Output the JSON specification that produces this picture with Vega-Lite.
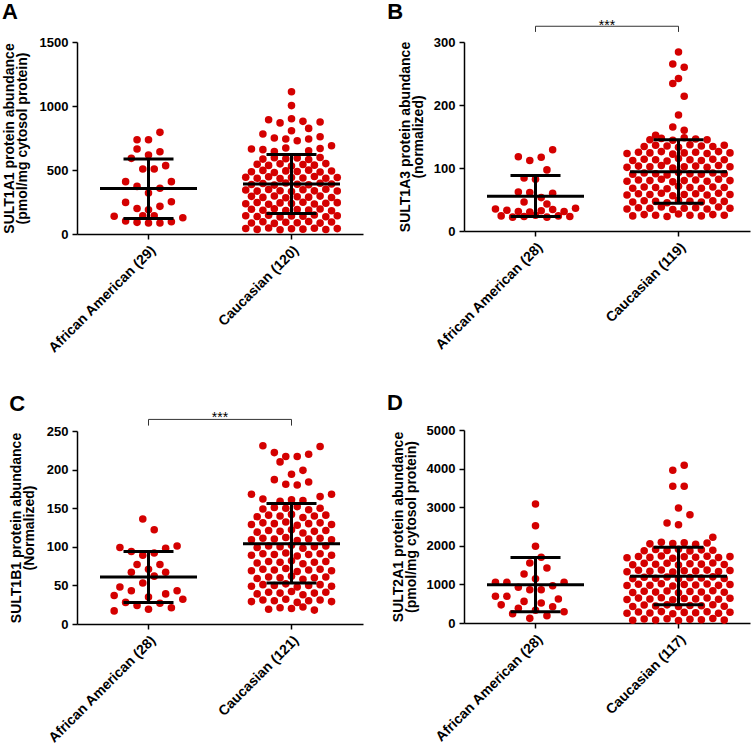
{
  "$schema": "https://vega.github.io/schema/vega-lite/v6.json",
  "background": "white",
  "padding": {"left": 2, "top": 1, "right": 1, "bottom": 1},
  "config": {
    "view": {"stroke": null},
    "font": "Liberation Sans",
    "axis": {"labelFont": "Liberation Sans", "labelColor": "black", "titleFont": "Liberation Sans", "titleColor": "black", "domainColor": "black", "domainWidth": 1.5, "tickColor": "black", "tickWidth": 1.5, "tickSize": 5, "grid": false, "labelOverlap": false},
    "title": {"fontSize": 22, "fontWeight": "bold", "anchor": "start", "frame": "bounds", "color": "black", "font": "Liberation Sans"}
  },
  "datasets": {
    "A": [
      {"g":"AA","v":794,"s":2},{"g":"AA","v":737,"s":-2},{"g":"AA","v":737,"s":0},{"g":"AA","v":664,"s":-2},{"g":"AA","v":643,"s":2},{"g":"AA","v":617,"s":0},{"g":"AA","v":591,"s":-3},{"g":"AA","v":508,"s":-1},{"g":"AA","v":508,"s":1},{"g":"AA","v":534,"s":3},{"g":"AA","v":409,"s":-4},{"g":"AA","v":409,"s":4},{"g":"AA","v":372,"s":-2},{"g":"AA","v":357,"s":2},{"g":"AA","v":320,"s":0},{"g":"AA","v":247,"s":-4},{"g":"AA","v":252,"s":4},{"g":"AA","v":200,"s":-2},{"g":"AA","v":190,"s":0},{"g":"AA","v":216,"s":2},{"g":"AA","v":138,"s":-6},{"g":"AA","v":143,"s":-1},{"g":"AA","v":143,"s":1},{"g":"AA","v":127,"s":6},{"g":"AA","v":102,"s":-4},{"g":"AA","v":91,"s":-2},{"g":"AA","v":86,"s":0},{"g":"AA","v":86,"s":2},{"g":"AA","v":96,"s":4},
      {"g":"CA","v":1112,"s":0},{"g":"CA","v":1003,"s":0},{"g":"CA","v":893,"s":-4},{"g":"CA","v":868,"s":-2},{"g":"CA","v":900,"s":0},{"g":"CA","v":880,"s":2},{"g":"CA","v":875,"s":5},{"g":"CA","v":825,"s":3},{"g":"CA","v":807,"s":0},{"g":"CA","v":781,"s":-5},{"g":"CA","v":750,"s":-3},{"g":"CA","v":742,"s":-1},{"g":"CA","v":729,"s":1},{"g":"CA","v":742,"s":3},{"g":"CA","v":760,"s":5},{"g":"CA","v":690,"s":7},{"g":"CA","v":664,"s":-7},{"g":"CA","v":659,"s":-5},{"g":"CA","v":672,"s":-1},{"g":"CA","v":650,"s":3},{"g":"CA","v":668,"s":5},{"g":"CA","v":645,"s":-3},
      {"g":"CA","v":585,"s":-5},{"g":"CA","v":596,"s":-3},{"g":"CA","v":588,"s":-1},{"g":"CA","v":594,"s":1},{"g":"CA","v":582,"s":3},{"g":"CA","v":598,"s":5},
      {"g":"CA","v":545,"s":-6},{"g":"CA","v":536,"s":-4},{"g":"CA","v":548,"s":-2},{"g":"CA","v":531,"s":0},{"g":"CA","v":543,"s":2},{"g":"CA","v":538,"s":4},{"g":"CA","v":550,"s":6},
      {"g":"CA","v":486,"s":-7},{"g":"CA","v":497,"s":-5},{"g":"CA","v":481,"s":-3},{"g":"CA","v":493,"s":-1},{"g":"CA","v":488,"s":1},{"g":"CA","v":499,"s":3},{"g":"CA","v":484,"s":5},{"g":"CA","v":492,"s":7},
      {"g":"CA","v":444,"s":-8},{"g":"CA","v":436,"s":-6},{"g":"CA","v":447,"s":-4},{"g":"CA","v":433,"s":-2},{"g":"CA","v":441,"s":0},{"g":"CA","v":438,"s":2},{"g":"CA","v":449,"s":4},{"g":"CA","v":435,"s":6},{"g":"CA","v":442,"s":8},
      {"g":"CA","v":386,"s":-7},{"g":"CA","v":395,"s":-5},{"g":"CA","v":382,"s":-3},{"g":"CA","v":398,"s":-1},{"g":"CA","v":389,"s":1},{"g":"CA","v":384,"s":3},{"g":"CA","v":396,"s":5},{"g":"CA","v":391,"s":7},
      {"g":"CA","v":343,"s":-8},{"g":"CA","v":335,"s":-6},{"g":"CA","v":347,"s":-4},{"g":"CA","v":338,"s":-2},{"g":"CA","v":332,"s":0},{"g":"CA","v":345,"s":2},{"g":"CA","v":337,"s":4},{"g":"CA","v":349,"s":6},{"g":"CA","v":336,"s":8},
      {"g":"CA","v":294,"s":-7},{"g":"CA","v":286,"s":-5},{"g":"CA","v":297,"s":-3},{"g":"CA","v":283,"s":-1},{"g":"CA","v":291,"s":1},{"g":"CA","v":288,"s":3},{"g":"CA","v":296,"s":5},{"g":"CA","v":285,"s":7},
      {"g":"CA","v":237,"s":-8},{"g":"CA","v":246,"s":-6},{"g":"CA","v":233,"s":-4},{"g":"CA","v":243,"s":-2},{"g":"CA","v":239,"s":0},{"g":"CA","v":248,"s":2},{"g":"CA","v":234,"s":4},{"g":"CA","v":241,"s":6},{"g":"CA","v":245,"s":8},
      {"g":"CA","v":193,"s":-7},{"g":"CA","v":186,"s":-5},{"g":"CA","v":197,"s":-3},{"g":"CA","v":184,"s":-1},{"g":"CA","v":191,"s":1},{"g":"CA","v":188,"s":3},{"g":"CA","v":195,"s":5},{"g":"CA","v":182,"s":7},
      {"g":"CA","v":143,"s":-8},{"g":"CA","v":136,"s":-6},{"g":"CA","v":147,"s":-4},{"g":"CA","v":133,"s":-2},{"g":"CA","v":141,"s":0},{"g":"CA","v":138,"s":2},{"g":"CA","v":149,"s":4},{"g":"CA","v":135,"s":6},{"g":"CA","v":142,"s":8},
      {"g":"CA","v":86,"s":-7},{"g":"CA","v":95,"s":-5},{"g":"CA","v":83,"s":-3},{"g":"CA","v":92,"s":-1},{"g":"CA","v":88,"s":1},{"g":"CA","v":97,"s":3},{"g":"CA","v":85,"s":5},{"g":"CA","v":93,"s":7},
      {"g":"CA","v":43,"s":-8},{"g":"CA","v":36,"s":-6},{"g":"CA","v":47,"s":-4},{"g":"CA","v":33,"s":-2},{"g":"CA","v":41,"s":0},{"g":"CA","v":38,"s":2},{"g":"CA","v":45,"s":4},{"g":"CA","v":35,"s":6},{"g":"CA","v":42,"s":8}
    ],
    "Ar": [{"g":"AA","v":122,"v2":586},{"g":"CA","v":161,"v2":622}],
    "Am": [{"g":"AA","v":355},{"g":"CA","v":391}],
    "Ae": [{"g":"AA","v":122},{"g":"AA","v":586},{"g":"CA","v":161},{"g":"CA","v":622}],
    "B": [
      {"g":"AA","v":129,"s":3},{"g":"AA","v":118,"s":-3},{"g":"AA","v":112,"s":-1},{"g":"AA","v":117,"s":1},{"g":"AA","v":97,"s":2},{"g":"AA","v":84,"s":-2},{"g":"AA","v":82,"s":0},{"g":"AA","v":62,"s":-3},{"g":"AA","v":61,"s":-1},{"g":"AA","v":60,"s":3},{"g":"AA","v":53,"s":1},{"g":"AA","v":46,"s":-2},{"g":"AA","v":43,"s":2},
      {"g":"AA","v":35,"s":-7},{"g":"AA","v":33,"s":-5},{"g":"AA","v":31,"s":-3},{"g":"AA","v":30,"s":-1},{"g":"AA","v":32,"s":1},{"g":"AA","v":34,"s":3},{"g":"AA","v":31,"s":5},{"g":"AA","v":36,"s":7},
      {"g":"AA","v":24,"s":-6},{"g":"AA","v":22,"s":-4},{"g":"AA","v":23,"s":-2},{"g":"AA","v":25,"s":0},{"g":"AA","v":22,"s":2},{"g":"AA","v":24,"s":4},{"g":"AA","v":23,"s":6},
      {"g":"CA","v":284,"s":0},{"g":"CA","v":265,"s":-1},{"g":"CA","v":260,"s":1},{"g":"CA","v":242,"s":0},{"g":"CA","v":234,"s":-1},{"g":"CA","v":214,"s":1},{"g":"CA","v":184,"s":0},{"g":"CA","v":165,"s":-1},{"g":"CA","v":160,"s":1},{"g":"CA","v":152,"s":-4},
      {"g":"CA","v":145,"s":-5},{"g":"CA","v":147,"s":-3},{"g":"CA","v":144,"s":-1},{"g":"CA","v":148,"s":1},{"g":"CA","v":146,"s":3},{"g":"CA","v":145,"s":5},
      {"g":"CA","v":134,"s":-6},{"g":"CA","v":136,"s":-4},{"g":"CA","v":135,"s":-2},{"g":"CA","v":133,"s":0},{"g":"CA","v":137,"s":2},{"g":"CA","v":135,"s":4},{"g":"CA","v":134,"s":6},{"g":"CA","v":136,"s":8},
      {"g":"CA","v":123,"s":-9},{"g":"CA","v":125,"s":-7},{"g":"CA","v":124,"s":-5},{"g":"CA","v":126,"s":-3},{"g":"CA","v":122,"s":-1},{"g":"CA","v":124,"s":1},{"g":"CA","v":125,"s":3},{"g":"CA","v":123,"s":5},{"g":"CA","v":126,"s":7},{"g":"CA","v":124,"s":9},
      {"g":"CA","v":112,"s":-8},{"g":"CA","v":114,"s":-6},{"g":"CA","v":113,"s":-4},{"g":"CA","v":111,"s":-2},{"g":"CA","v":115,"s":0},{"g":"CA","v":113,"s":2},{"g":"CA","v":112,"s":4},{"g":"CA","v":114,"s":6},{"g":"CA","v":113,"s":8},
      {"g":"CA","v":101,"s":-9},{"g":"CA","v":103,"s":-7},{"g":"CA","v":102,"s":-5},{"g":"CA","v":104,"s":-3},{"g":"CA","v":100,"s":-1},{"g":"CA","v":102,"s":1},{"g":"CA","v":103,"s":3},{"g":"CA","v":101,"s":5},{"g":"CA","v":104,"s":7},{"g":"CA","v":102,"s":9},
      {"g":"CA","v":90,"s":-8},{"g":"CA","v":92,"s":-6},{"g":"CA","v":91,"s":-4},{"g":"CA","v":89,"s":-2},{"g":"CA","v":93,"s":0},{"g":"CA","v":91,"s":2},{"g":"CA","v":90,"s":4},{"g":"CA","v":92,"s":6},{"g":"CA","v":91,"s":8},
      {"g":"CA","v":79,"s":-9},{"g":"CA","v":81,"s":-7},{"g":"CA","v":80,"s":-5},{"g":"CA","v":82,"s":-3},{"g":"CA","v":78,"s":-1},{"g":"CA","v":80,"s":1},{"g":"CA","v":81,"s":3},{"g":"CA","v":79,"s":5},{"g":"CA","v":82,"s":7},{"g":"CA","v":80,"s":9},
      {"g":"CA","v":68,"s":-8},{"g":"CA","v":70,"s":-6},{"g":"CA","v":69,"s":-4},{"g":"CA","v":67,"s":-2},{"g":"CA","v":71,"s":0},{"g":"CA","v":69,"s":2},{"g":"CA","v":68,"s":4},{"g":"CA","v":70,"s":6},{"g":"CA","v":69,"s":8},
      {"g":"CA","v":57,"s":-9},{"g":"CA","v":59,"s":-7},{"g":"CA","v":58,"s":-5},{"g":"CA","v":60,"s":-3},{"g":"CA","v":56,"s":-1},{"g":"CA","v":58,"s":1},{"g":"CA","v":59,"s":3},{"g":"CA","v":57,"s":5},{"g":"CA","v":60,"s":7},{"g":"CA","v":58,"s":9},
      {"g":"CA","v":46,"s":-8},{"g":"CA","v":48,"s":-6},{"g":"CA","v":47,"s":-4},{"g":"CA","v":45,"s":-2},{"g":"CA","v":49,"s":0},{"g":"CA","v":47,"s":2},{"g":"CA","v":46,"s":4},{"g":"CA","v":48,"s":6},{"g":"CA","v":47,"s":8},
      {"g":"CA","v":35,"s":-9},{"g":"CA","v":37,"s":-7},{"g":"CA","v":36,"s":-5},{"g":"CA","v":38,"s":-3},{"g":"CA","v":34,"s":-1},{"g":"CA","v":36,"s":1},{"g":"CA","v":37,"s":3},{"g":"CA","v":35,"s":5},{"g":"CA","v":38,"s":7},{"g":"CA","v":36,"s":9},
      {"g":"CA","v":24,"s":-8},{"g":"CA","v":26,"s":-6},{"g":"CA","v":25,"s":-4},{"g":"CA","v":23,"s":-2},{"g":"CA","v":27,"s":0},{"g":"CA","v":25,"s":2},{"g":"CA","v":24,"s":4},{"g":"CA","v":26,"s":6},{"g":"CA","v":25,"s":8}
    ],
    "Br": [{"g":"AA","v":23,"v2":88},{"g":"CA","v":44,"v2":145}],
    "Bm": [{"g":"AA","v":55},{"g":"CA","v":94}],
    "Be": [{"g":"AA","v":23},{"g":"AA","v":88},{"g":"CA","v":44},{"g":"CA","v":145}],
    "Bb": [{"g":"AA","v":316,"o":1},{"g":"AA","v":325,"o":2},{"g":"CA","v":325,"o":3},{"g":"CA","v":316,"o":4}],
    "Bt": [{"g":"CA","v":319,"t":"***"}],
    "C": [
      {"g":"AA","v":136,"s":-1},{"g":"AA","v":122,"s":1},{"g":"AA","v":101,"s":5},{"g":"AA","v":99,"s":-5},{"g":"AA","v":98,"s":3},{"g":"AA","v":94,"s":-3},{"g":"AA","v":92,"s":1},{"g":"AA","v":89,"s":-1},{"g":"AA","v":77,"s":-2},{"g":"AA","v":77,"s":2},{"g":"AA","v":71,"s":0},{"g":"AA","v":67,"s":-3},{"g":"AA","v":67,"s":3},{"g":"AA","v":62,"s":1},{"g":"AA","v":53,"s":-1},{"g":"AA","v":48,"s":-5},{"g":"AA","v":43,"s":-3},{"g":"AA","v":43,"s":5},{"g":"AA","v":39,"s":3},{"g":"AA","v":37,"s":-6},{"g":"AA","v":35,"s":0},{"g":"AA","v":32,"s":6},{"g":"AA","v":28,"s":-4},{"g":"AA","v":27,"s":2},{"g":"AA","v":24,"s":-2},{"g":"AA","v":21,"s":4},{"g":"AA","v":19,"s":0},{"g":"AA","v":17,"s":-6},
      {"g":"CA","v":231,"s":-5},{"g":"CA","v":230,"s":5},{"g":"CA","v":222,"s":-3},{"g":"CA","v":217,"s":-1},{"g":"CA","v":217,"s":1},{"g":"CA","v":220,"s":3},{"g":"CA","v":210,"s":-2},{"g":"CA","v":194,"s":0},{"g":"CA","v":199,"s":2},{"g":"CA","v":187,"s":-3},{"g":"CA","v":181,"s":-1},{"g":"CA","v":180,"s":1},{"g":"CA","v":184,"s":3},{"g":"CA","v":168,"s":-7},{"g":"CA","v":168,"s":7},{"g":"CA","v":165,"s":5},{"g":"CA","v":162,"s":-5},
      {"g":"CA","v":159,"s":-2},{"g":"CA","v":161,"s":0},{"g":"CA","v":160,"s":2},
      {"g":"CA","v":149,"s":-5},{"g":"CA","v":151,"s":-3},{"g":"CA","v":150,"s":-1},{"g":"CA","v":152,"s":1},{"g":"CA","v":148,"s":3},{"g":"CA","v":150,"s":5},
      {"g":"CA","v":139,"s":-6},{"g":"CA","v":141,"s":-4},{"g":"CA","v":140,"s":-2},{"g":"CA","v":142,"s":0},{"g":"CA","v":138,"s":2},{"g":"CA","v":140,"s":4},{"g":"CA","v":141,"s":6},
      {"g":"CA","v":129,"s":-7},{"g":"CA","v":131,"s":-5},{"g":"CA","v":130,"s":-3},{"g":"CA","v":132,"s":-1},{"g":"CA","v":128,"s":1},{"g":"CA","v":130,"s":3},{"g":"CA","v":131,"s":5},{"g":"CA","v":129,"s":7},
      {"g":"CA","v":119,"s":-6},{"g":"CA","v":121,"s":-4},{"g":"CA","v":120,"s":-2},{"g":"CA","v":122,"s":0},{"g":"CA","v":118,"s":2},{"g":"CA","v":120,"s":4},{"g":"CA","v":121,"s":6},
      {"g":"CA","v":109,"s":-7},{"g":"CA","v":111,"s":-5},{"g":"CA","v":110,"s":-3},{"g":"CA","v":112,"s":-1},{"g":"CA","v":108,"s":1},{"g":"CA","v":110,"s":3},{"g":"CA","v":111,"s":5},{"g":"CA","v":109,"s":7},
      {"g":"CA","v":99,"s":-6},{"g":"CA","v":101,"s":-4},{"g":"CA","v":100,"s":-2},{"g":"CA","v":102,"s":0},{"g":"CA","v":98,"s":2},{"g":"CA","v":100,"s":4},{"g":"CA","v":101,"s":6},
      {"g":"CA","v":89,"s":-7},{"g":"CA","v":91,"s":-5},{"g":"CA","v":90,"s":-3},{"g":"CA","v":92,"s":-1},{"g":"CA","v":88,"s":1},{"g":"CA","v":90,"s":3},{"g":"CA","v":91,"s":5},{"g":"CA","v":89,"s":7},
      {"g":"CA","v":79,"s":-6},{"g":"CA","v":81,"s":-4},{"g":"CA","v":80,"s":-2},{"g":"CA","v":82,"s":0},{"g":"CA","v":78,"s":2},{"g":"CA","v":80,"s":4},{"g":"CA","v":81,"s":6},
      {"g":"CA","v":69,"s":-7},{"g":"CA","v":71,"s":-5},{"g":"CA","v":70,"s":-3},{"g":"CA","v":72,"s":-1},{"g":"CA","v":68,"s":1},{"g":"CA","v":70,"s":3},{"g":"CA","v":71,"s":5},{"g":"CA","v":69,"s":7},
      {"g":"CA","v":59,"s":-6},{"g":"CA","v":61,"s":-4},{"g":"CA","v":60,"s":-2},{"g":"CA","v":62,"s":0},{"g":"CA","v":58,"s":2},{"g":"CA","v":60,"s":4},{"g":"CA","v":61,"s":6},
      {"g":"CA","v":49,"s":-7},{"g":"CA","v":51,"s":-5},{"g":"CA","v":50,"s":-3},{"g":"CA","v":52,"s":-1},{"g":"CA","v":48,"s":1},{"g":"CA","v":50,"s":3},{"g":"CA","v":51,"s":5},{"g":"CA","v":49,"s":7},
      {"g":"CA","v":39,"s":-6},{"g":"CA","v":41,"s":-4},{"g":"CA","v":40,"s":-2},{"g":"CA","v":42,"s":0},{"g":"CA","v":38,"s":2},{"g":"CA","v":40,"s":4},{"g":"CA","v":41,"s":6},
      {"g":"CA","v":29,"s":-7},{"g":"CA","v":31,"s":-5},{"g":"CA","v":30,"s":-3},{"g":"CA","v":32,"s":-1},{"g":"CA","v":28,"s":1},{"g":"CA","v":30,"s":3},{"g":"CA","v":31,"s":5},{"g":"CA","v":29,"s":7},
      {"g":"CA","v":19,"s":-4},{"g":"CA","v":21,"s":-2},{"g":"CA","v":20,"s":0},{"g":"CA","v":22,"s":2},{"g":"CA","v":18,"s":4}
    ],
    "Cr": [{"g":"AA","v":28,"v2":94},{"g":"CA","v":53,"v2":156}],
    "Cm": [{"g":"AA","v":61},{"g":"CA","v":104}],
    "Ce": [{"g":"AA","v":28},{"g":"AA","v":94},{"g":"CA","v":53},{"g":"CA","v":156}],
    "Cb": [{"g":"AA","v":257,"o":1},{"g":"AA","v":265,"o":2},{"g":"CA","v":265,"o":3},{"g":"CA","v":257,"o":4}],
    "Ct": [{"g":"CA","v":262,"t":"***"}],
    "D": [
      {"g":"AA","v":3083,"s":0},{"g":"AA","v":2521,"s":0},{"g":"AA","v":1986,"s":0},{"g":"AA","v":1701,"s":1},{"g":"AA","v":1554,"s":-1},{"g":"AA","v":1425,"s":2},{"g":"AA","v":1269,"s":-2},{"g":"AA","v":1148,"s":0},{"g":"AA","v":1054,"s":-7},{"g":"AA","v":1054,"s":-5},{"g":"AA","v":1054,"s":5},{"g":"AA","v":967,"s":3},{"g":"AA","v":925,"s":-3},{"g":"AA","v":863,"s":-1},{"g":"AA","v":863,"s":1},{"g":"AA","v":691,"s":-7},{"g":"AA","v":691,"s":-5},{"g":"AA","v":620,"s":4},{"g":"AA","v":560,"s":-2},{"g":"AA","v":520,"s":1},{"g":"AA","v":470,"s":-6},{"g":"AA","v":420,"s":3},{"g":"AA","v":380,"s":-3},{"g":"AA","v":330,"s":0},{"g":"AA","v":290,"s":5},{"g":"AA","v":240,"s":-4},{"g":"AA","v":190,"s":2},{"g":"AA","v":120,"s":-1},
      {"g":"CA","v":4085,"s":1},{"g":"CA","v":3955,"s":-1},{"g":"CA","v":3541,"s":-1},{"g":"CA","v":3541,"s":1},{"g":"CA","v":2979,"s":0},{"g":"CA","v":2806,"s":2},{"g":"CA","v":2591,"s":-2},{"g":"CA","v":2547,"s":0},{"g":"CA","v":2220,"s":6},
      {"g":"CA","v":2050,"s":-5},{"g":"CA","v":2090,"s":-3},{"g":"CA","v":2060,"s":-1},{"g":"CA","v":2080,"s":1},{"g":"CA","v":2040,"s":3},{"g":"CA","v":2075,"s":5},
      {"g":"CA","v":1870,"s":-6},{"g":"CA","v":1905,"s":-4},{"g":"CA","v":1880,"s":-2},{"g":"CA","v":1910,"s":0},{"g":"CA","v":1865,"s":2},{"g":"CA","v":1895,"s":4},{"g":"CA","v":1885,"s":6},
      {"g":"CA","v":1690,"s":-9},{"g":"CA","v":1725,"s":-7},{"g":"CA","v":1700,"s":-5},{"g":"CA","v":1735,"s":-3},{"g":"CA","v":1680,"s":-1},{"g":"CA","v":1715,"s":1},{"g":"CA","v":1705,"s":3},{"g":"CA","v":1730,"s":5},{"g":"CA","v":1695,"s":7},{"g":"CA","v":1720,"s":9},
      {"g":"CA","v":1510,"s":-8},{"g":"CA","v":1545,"s":-6},{"g":"CA","v":1520,"s":-4},{"g":"CA","v":1550,"s":-2},{"g":"CA","v":1505,"s":0},{"g":"CA","v":1535,"s":2},{"g":"CA","v":1525,"s":4},{"g":"CA","v":1555,"s":6},{"g":"CA","v":1515,"s":8},
      {"g":"CA","v":1330,"s":-9},{"g":"CA","v":1365,"s":-7},{"g":"CA","v":1340,"s":-5},{"g":"CA","v":1375,"s":-3},{"g":"CA","v":1320,"s":-1},{"g":"CA","v":1355,"s":1},{"g":"CA","v":1345,"s":3},{"g":"CA","v":1370,"s":5},{"g":"CA","v":1335,"s":7},{"g":"CA","v":1360,"s":9},
      {"g":"CA","v":1150,"s":-8},{"g":"CA","v":1185,"s":-6},{"g":"CA","v":1160,"s":-4},{"g":"CA","v":1190,"s":-2},{"g":"CA","v":1145,"s":0},{"g":"CA","v":1175,"s":2},{"g":"CA","v":1165,"s":4},{"g":"CA","v":1195,"s":6},{"g":"CA","v":1155,"s":8},
      {"g":"CA","v":970,"s":-9},{"g":"CA","v":1005,"s":-7},{"g":"CA","v":980,"s":-5},{"g":"CA","v":1015,"s":-3},{"g":"CA","v":960,"s":-1},{"g":"CA","v":995,"s":1},{"g":"CA","v":985,"s":3},{"g":"CA","v":1010,"s":5},{"g":"CA","v":975,"s":7},{"g":"CA","v":1000,"s":9},
      {"g":"CA","v":790,"s":-8},{"g":"CA","v":825,"s":-6},{"g":"CA","v":800,"s":-4},{"g":"CA","v":830,"s":-2},{"g":"CA","v":785,"s":0},{"g":"CA","v":815,"s":2},{"g":"CA","v":805,"s":4},{"g":"CA","v":835,"s":6},{"g":"CA","v":795,"s":8},
      {"g":"CA","v":610,"s":-9},{"g":"CA","v":645,"s":-7},{"g":"CA","v":620,"s":-5},{"g":"CA","v":655,"s":-3},{"g":"CA","v":600,"s":-1},{"g":"CA","v":635,"s":1},{"g":"CA","v":625,"s":3},{"g":"CA","v":650,"s":5},{"g":"CA","v":615,"s":7},{"g":"CA","v":640,"s":9},
      {"g":"CA","v":430,"s":-8},{"g":"CA","v":465,"s":-6},{"g":"CA","v":440,"s":-4},{"g":"CA","v":470,"s":-2},{"g":"CA","v":425,"s":0},{"g":"CA","v":455,"s":2},{"g":"CA","v":445,"s":4},{"g":"CA","v":475,"s":6},{"g":"CA","v":435,"s":8},
      {"g":"CA","v":250,"s":-9},{"g":"CA","v":285,"s":-7},{"g":"CA","v":260,"s":-5},{"g":"CA","v":295,"s":-3},{"g":"CA","v":240,"s":-1},{"g":"CA","v":275,"s":1},{"g":"CA","v":265,"s":3},{"g":"CA","v":290,"s":5},{"g":"CA","v":255,"s":7},{"g":"CA","v":280,"s":9},
      {"g":"CA","v":70,"s":-8},{"g":"CA","v":105,"s":-6},{"g":"CA","v":80,"s":-4},{"g":"CA","v":110,"s":-2},{"g":"CA","v":65,"s":0},{"g":"CA","v":95,"s":2},{"g":"CA","v":85,"s":4},{"g":"CA","v":115,"s":6},{"g":"CA","v":75,"s":8}
    ],
    "Dr": [{"g":"AA","v":290,"v2":1700},{"g":"CA","v":470,"v2":1960}],
    "Dm": [{"g":"AA","v":990},{"g":"CA","v":1210}],
    "De": [{"g":"AA","v":290},{"g":"AA","v":1700},{"g":"CA","v":470},{"g":"CA","v":1960}]
  },
  "columns": 2,
  "align": "none",
  "bounds": "full",
  "spacing": {"row": 36, "column": 24},
  "concat": [
    {
      "title": {"text": "A", "offset": 12},
      "width": 286, "height": 192,
      "encoding": {
        "x": {"field": "g", "type": "nominal", "scale": {"domain": ["AA", "CA"], "paddingInner": 0, "paddingOuter": 0}, "axis": {"title": null, "labelAngle": -45, "labelFontSize": 14, "labelFontWeight": "bold", "labelPadding": 4, "labelOverlap": false, "labelExpr": "datum.value == 'AA' ? 'African American (29)' : 'Caucasian (120)'"}},
        "y": {"field": "v", "type": "quantitative", "scale": {"domain": [0, 1500], "nice": false}, "axis": {"title": ["SULT1A1 protein abundance", "(pmol/mg cytosol protein)"], "titleFontSize": 14, "titleFontWeight": "bold", "titleLineHeight": 13, "titlePadding": 10, "labelFontSize": 13, "labelFontWeight": "bold", "labelPadding": 4, "format": "d", "labelOverlap": false, "labelFlush": false, "values": [0, 500, 1000, 1500]}}
      },
      "layer": [
        {"data": {"name": "A"}, "mark": {"type": "circle", "size": 57, "color": "#d40000", "opacity": 1}, "encoding": {"xOffset": {"field": "s", "type": "quantitative", "scale": {"domain": [-12.5, 12.5]}}}},
        {"data": {"name": "Ar"}, "mark": {"type": "rule", "strokeWidth": 3, "color": "black"}, "encoding": {"y2": {"field": "v2"}}},
        {"data": {"name": "Am"}, "mark": {"type": "tick", "size": 97, "thickness": 3, "color": "black", "opacity": 1, "orient": "horizontal"}, "encoding": {}},
        {"data": {"name": "Ae"}, "mark": {"type": "tick", "size": 50, "thickness": 3, "color": "black", "opacity": 1, "orient": "horizontal"}, "encoding": {}}
      ]
    },
    {
      "title": {"text": "B", "offset": -5, "dx": -11},
      "width": 286, "height": 189,
      "encoding": {
        "x": {"field": "g", "type": "nominal", "scale": {"domain": ["AA", "CA"], "paddingInner": 0, "paddingOuter": 0}, "axis": {"title": null, "labelAngle": -45, "labelFontSize": 14, "labelFontWeight": "bold", "labelPadding": 4, "labelOverlap": false, "labelExpr": "datum.value == 'AA' ? 'African American (28)' : 'Caucasian (119)'"}},
        "y": {"field": "v", "type": "quantitative", "scale": {"domain": [0, 300], "nice": false}, "axis": {"title": ["SULT1A3 protein abundance", "(normalized)"], "titleFontSize": 14, "titleFontWeight": "bold", "titleLineHeight": 13, "titlePadding": 8, "labelFontSize": 13, "labelFontWeight": "bold", "labelPadding": 4, "format": "d", "labelOverlap": false, "labelFlush": false, "values": [0, 100, 200, 300]}}
      },
      "layer": [
        {"data": {"name": "B"}, "mark": {"type": "circle", "size": 57, "color": "#d40000", "opacity": 1}, "encoding": {"xOffset": {"field": "s", "type": "quantitative", "scale": {"domain": [-12.5, 12.5]}}}},
        {"data": {"name": "Br"}, "mark": {"type": "rule", "strokeWidth": 3, "color": "black"}, "encoding": {"y2": {"field": "v2"}}},
        {"data": {"name": "Bm"}, "mark": {"type": "tick", "size": 97, "thickness": 3, "color": "black", "opacity": 1, "orient": "horizontal"}, "encoding": {}},
        {"data": {"name": "Be"}, "mark": {"type": "tick", "size": 50, "thickness": 3, "color": "black", "opacity": 1, "orient": "horizontal"}, "encoding": {}},
        {"data": {"name": "Bb"}, "mark": {"type": "line", "color": "#333333", "strokeWidth": 1}, "encoding": {"order": {"field": "o"}}},
        {"data": {"name": "Bt"}, "mark": {"type": "text", "fontSize": 14, "align": "center", "baseline": "alphabetic", "color": "black"}, "encoding": {"x": {"field": "g", "type": "nominal", "bandPosition": 0}, "text": {"field": "t"}}}
      ]
    },
    {
      "title": {"text": "C", "offset": -5},
      "width": 286, "height": 193,
      "encoding": {
        "x": {"field": "g", "type": "nominal", "scale": {"domain": ["AA", "CA"], "paddingInner": 0, "paddingOuter": 0}, "axis": {"title": null, "labelAngle": -45, "labelFontSize": 14, "labelFontWeight": "bold", "labelPadding": 4, "labelOverlap": false, "labelExpr": "datum.value == 'AA' ? 'African American (28)' : 'Caucasian (121)'"}},
        "y": {"field": "v", "type": "quantitative", "scale": {"domain": [0, 250], "nice": false}, "axis": {"title": ["SULT1B1 protein abundance", "(Normalized)"], "titleFontSize": 14, "titleFontWeight": "bold", "titleLineHeight": 13, "titlePadding": 10, "labelFontSize": 13, "labelFontWeight": "bold", "labelPadding": 4, "format": "d", "labelOverlap": false, "labelFlush": false, "values": [0, 50, 100, 150, 200, 250]}}
      },
      "layer": [
        {"data": {"name": "C"}, "mark": {"type": "circle", "size": 57, "color": "#d40000", "opacity": 1}, "encoding": {"xOffset": {"field": "s", "type": "quantitative", "scale": {"domain": [-12.5, 12.5]}}}},
        {"data": {"name": "Cr"}, "mark": {"type": "rule", "strokeWidth": 3, "color": "black"}, "encoding": {"y2": {"field": "v2"}}},
        {"data": {"name": "Cm"}, "mark": {"type": "tick", "size": 97, "thickness": 3, "color": "black", "opacity": 1, "orient": "horizontal"}, "encoding": {}},
        {"data": {"name": "Ce"}, "mark": {"type": "tick", "size": 50, "thickness": 3, "color": "black", "opacity": 1, "orient": "horizontal"}, "encoding": {}},
        {"data": {"name": "Cb"}, "mark": {"type": "line", "color": "#333333", "strokeWidth": 1}, "encoding": {"order": {"field": "o"}}},
        {"data": {"name": "Ct"}, "mark": {"type": "text", "fontSize": 14, "align": "center", "baseline": "alphabetic", "color": "black"}, "encoding": {"x": {"field": "g", "type": "nominal", "bandPosition": 0}, "text": {"field": "t"}}}
      ]
    },
    {
      "title": {"text": "D", "offset": 9, "dx": -4},
      "width": 286, "height": 193,
      "encoding": {
        "x": {"field": "g", "type": "nominal", "scale": {"domain": ["AA", "CA"], "paddingInner": 0, "paddingOuter": 0}, "axis": {"title": null, "labelAngle": -45, "labelFontSize": 14, "labelFontWeight": "bold", "labelPadding": 4, "labelOverlap": false, "labelExpr": "datum.value == 'AA' ? 'African American (28)' : 'Caucasian (117)'"}},
        "y": {"field": "v", "type": "quantitative", "scale": {"domain": [0, 5000], "nice": false}, "axis": {"title": ["SULT2A1 protein abundance", "(pmol/mg cytosol protein)"], "titleFontSize": 14, "titleFontWeight": "bold", "titleLineHeight": 13, "titlePadding": 8, "labelFontSize": 13, "labelFontWeight": "bold", "labelPadding": 4, "format": "d", "labelOverlap": false, "labelFlush": false, "values": [0, 1000, 2000, 3000, 4000, 5000]}}
      },
      "layer": [
        {"data": {"name": "D"}, "mark": {"type": "circle", "size": 57, "color": "#d40000", "opacity": 1}, "encoding": {"xOffset": {"field": "s", "type": "quantitative", "scale": {"domain": [-12.5, 12.5]}}}},
        {"data": {"name": "Dr"}, "mark": {"type": "rule", "strokeWidth": 3, "color": "black"}, "encoding": {"y2": {"field": "v2"}}},
        {"data": {"name": "Dm"}, "mark": {"type": "tick", "size": 97, "thickness": 3, "color": "black", "opacity": 1, "orient": "horizontal"}, "encoding": {}},
        {"data": {"name": "De"}, "mark": {"type": "tick", "size": 50, "thickness": 3, "color": "black", "opacity": 1, "orient": "horizontal"}, "encoding": {}}
      ]
    }
  ]
}
